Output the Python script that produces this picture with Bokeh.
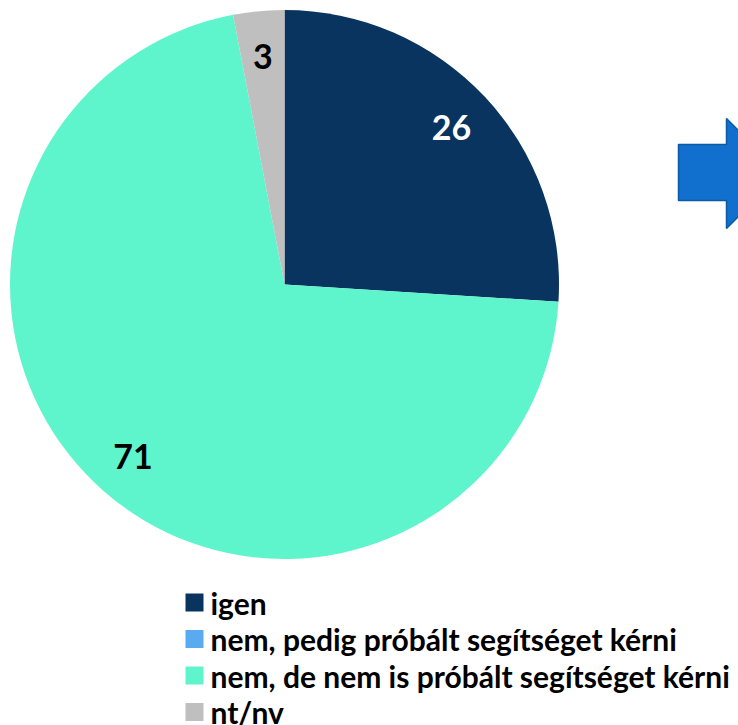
import math
from bokeh.plotting import figure
from bokeh.models import Range1d
from bokeh.core.properties import value
from bokeh.embed import file_html
from bokeh.resources import INLINE

# ---- data ----
categories = ["igen", "nem, pedig próbált segítséget kérni",
              "nem, de nem is próbált segítséget kérni", "nt/nv"]
values = [26, 0, 71, 3]
colors = ["#08345F", "#5AAAF0", "#5FF5CC", "#BFBFBF"]
label_colors = ["white", "black", "black", "black"]

# ---- layout (screen px; data y = PAGE_H - screen y) ----
PAGE_W, PAGE_H = 738, 725
CX, CY, R = 284, PAGE_H - 284, 274.5
LABEL_FRAC = 0.835
FONT = "Lato"

p = figure(width=PAGE_W, height=PAGE_H, output_backend="svg", toolbar_location=None,
           x_range=Range1d(0, PAGE_W), y_range=Range1d(0, PAGE_H),
           min_border=0)
p.axis.visible = False
p.grid.visible = False
p.outline_line_color = None
p.background_fill_color = "white"

total = sum(values)
starts, ends, wcols, lx, ly, ltxt, lcol = [], [], [], [], [], [], []
cum = 0
for v, c, lc in zip(values, colors, label_colors):
    a0 = math.pi / 2 - 2 * math.pi * cum / total
    cum += v
    a1 = math.pi / 2 - 2 * math.pi * cum / total
    if v > 0:
        starts.append(a0); ends.append(a1); wcols.append(c)
        mid = (a0 + a1) / 2
        lx.append(CX + LABEL_FRAC * R * math.cos(mid))
        ly.append(CY + LABEL_FRAC * R * math.sin(mid))
        ltxt.append(str(v)); lcol.append(lc)

p.wedge(x=CX, y=CY, radius=R, start_angle=starts, end_angle=ends,
        direction="clock", fill_color=wcols, line_color=None)
p.text(x=lx, y=ly, text=ltxt, text_color=lcol, text_font=value(FONT),
       text_font_style="bold", text_font_size="34px",
       text_align="center", text_baseline="middle")

# ---- legend ----
LEG_X, LEG_Y0, LEG_DY, SQ = 194, 602, 36.5, 18
ys = [PAGE_H - (LEG_Y0 + i * LEG_DY) for i in range(len(categories))]
p.rect(x=[LEG_X] * len(categories), y=ys, width=SQ, height=SQ,
       fill_color=colors, line_color=None)
p.text(x=[LEG_X + SQ / 2 + 7] * len(categories), y=ys, text=categories,
       text_color="black", text_font=value(FONT), text_font_style="bold",
       text_font_size="30px", text_align="left", text_baseline="middle")

# ---- decorative arrow (right edge) ----
ax = [678, 726, 726, 781, 726, 726, 678]
ay = [144, 144, 118, 173, 228, 200, 200]
p.patch(x=ax, y=[PAGE_H - v for v in ay], fill_color="#1170CD",
        line_color="#0B5AA6", line_width=1.5)

open("out.html", "w").write(file_html(p, INLINE))
